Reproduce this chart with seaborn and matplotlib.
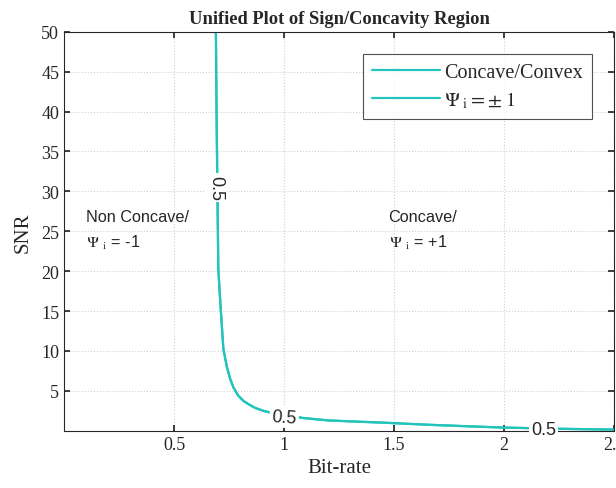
import numpy as np
import pandas as pd
import seaborn as sns
import matplotlib.pyplot as plt

# contour level 0.5 (bit-rate vs SNR)
bit_rate = [0.690, 0.693, 0.697, 0.701, 0.712, 0.724, 0.740, 0.755, 0.770, 0.792, 0.815,
            0.84, 0.87, 0.906, 0.95, 1.0, 1.087, 1.2, 1.33, 1.465, 1.66, 1.85, 2.0, 2.25, 2.5]
snr = [50, 40, 30, 20.25, 15.25, 10.25, 8.0, 6.5, 5.4, 4.4, 3.75,
       3.3, 2.85, 2.5, 2.2, 1.95, 1.6, 1.3, 1.15, 1.0, 0.75, 0.55, 0.4, 0.25, 0.15]
level_labels = ["0.5", "0.5", "0.5"]
label_x = [0.69, 1.0, 2.18]
label_y = [30.5, 1.7, 0.15]
label_rot = [-90, -4, 0]

x_ticks = [0.5, 1, 1.5, 2, 2.5]
y_ticks = [5, 10, 15, 20, 25, 30, 35, 40, 45, 50]

df = pd.DataFrame({"Bit-rate": bit_rate, "SNR": snr})
teal = "#22c4bb"

sns.set_theme(style="whitegrid")
plt.rcParams["font.family"] = ["Liberation Serif", "DejaVu Serif"]
plt.rcParams["mathtext.fontset"] = "stix"

fig = plt.figure(figsize=(6.16, 4.89), dpi=100)
ax = fig.add_axes([0.104, 0.117, 0.893, 0.816])

sns.lineplot(data=df, x="Bit-rate", y="SNR", sort=False, color=teal, lw=1.6,
             ax=ax, label="Concave/Convex")
sns.lineplot(data=df, x="Bit-rate", y="SNR", sort=False, color=teal, lw=1.6,
             ax=ax, label=r"$\Psi_{\ \mathrm{i}} = \pm\ 1$")

for t, x, y, r in zip(level_labels, label_x, label_y, label_rot):
    ax.text(x, y, t, rotation=r, ha="center", va="center", fontsize=13,
            family=["Liberation Sans"],
            bbox=dict(facecolor="white", edgecolor="none", pad=1.5))

ax.text(0.1, 26.8, "Non Concave/", fontsize=11.7, family=["Liberation Sans"], va="center")
ax.text(0.1, 23.6, r"$\Psi\ _{\mathrm{i}}$ = -1", fontsize=11.7, family=["Liberation Sans"], va="center")
ax.text(1.475, 26.8, "Concave/", fontsize=11.7, family=["Liberation Sans"], va="center")
ax.text(1.475, 23.6, r"$\Psi\ _{\mathrm{i}}$ = +1", fontsize=11.7, family=["Liberation Sans"], va="center")

ax.set_xlim(0, 2.5)
ax.set_ylim(0, 50)
ax.set_xticks(x_ticks)
ax.set_xticklabels(["0.5", "1", "1.5", "2", "2.5"])
ax.set_yticks(y_ticks)
ax.tick_params(direction="in", length=4, labelsize=13, colors="#262626",
               top=True, right=True, bottom=True, left=True)
ax.grid(True, linestyle=":", color="#d0d0d0", lw=0.8)
for s in ax.spines.values():
    s.set_color("#262626")
    s.set_linewidth(0.8)

ax.set_xlabel("Bit-rate", fontsize=15, labelpad=4)
ax.set_ylabel("SNR", fontsize=15, labelpad=6)
ax.set_title("Unified Plot of Sign/Concavity Region", fontsize=13.3, fontweight="bold", pad=6)

leg = ax.legend(loc="upper right", fontsize=14.5, frameon=True, fancybox=False,
                edgecolor="#262626", handlelength=3.4, borderaxespad=1.1,
                handletextpad=0.2, labelspacing=0.35, borderpad=0.45)
leg.get_frame().set_linewidth(0.8)

fig.savefig("out.png", dpi=100)
